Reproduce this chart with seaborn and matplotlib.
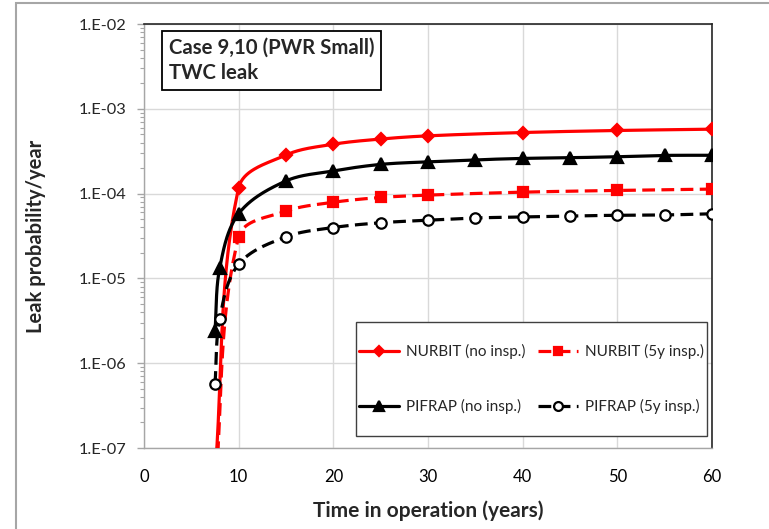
import numpy as np
import matplotlib
matplotlib.use("Agg")
import matplotlib.pyplot as plt
from matplotlib.lines import Line2D
from matplotlib.patches import Rectangle
from matplotlib.ticker import LogLocator, FixedLocator, NullFormatter, FuncFormatter
import seaborn as sns

# ---------------- data ----------------
nurbit_no_x = [7.5, 10, 15, 20, 25, 30, 40, 50, 60]
nurbit_no_y = [5e-8, 1.17e-4, 2.85e-4, 3.82e-4, 4.4e-4, 4.8e-4, 5.25e-4, 5.55e-4, 5.75e-4]

nurbit_5y_x = [7.5, 10, 15, 20, 25, 30, 40, 50, 60]
nurbit_5y_y = [3e-8, 3.1e-5, 6.2e-5, 7.9e-5, 9.0e-5, 9.6e-5, 1.04e-4, 1.09e-4, 1.13e-4]

pifrap_no_x = [7.5, 8, 10, 15, 20, 25, 30, 35, 40, 45, 50, 55, 60]
pifrap_no_y = [2.4e-6, 1.33e-5, 5.8e-5, 1.41e-4, 1.85e-4, 2.21e-4, 2.37e-4, 2.5e-4,
               2.6e-4, 2.65e-4, 2.72e-4, 2.82e-4, 2.83e-4]

pifrap_5y_x = [7.5, 8, 10, 15, 20, 25, 30, 35, 40, 45, 50, 55, 60]
pifrap_5y_y = [5.7e-7, 3.35e-6, 1.47e-5, 3.09e-5, 3.98e-5, 4.53e-5, 4.86e-5, 5.16e-5,
               5.3e-5, 5.45e-5, 5.55e-5, 5.6e-5, 5.78e-5]

labels = ["NURBIT (no insp.)", "NURBIT (5y insp.)", "PIFRAP (no insp.)", "PIFRAP (5y insp.)"]
x_ticks = [0, 10, 20, 30, 40, 50, 60]
y_ticks = [1e-7, 1e-6, 1e-5, 1e-4, 1e-3, 1e-2]
title_text = "Case 9,10 (PWR Small)\nTWC leak"
xlabel = "Time in operation (years)"
ylabel = "Leak probability/year"

# ---------------- style ----------------
sns.set_style("white")
plt.rcParams['font.family'] = ['Lato', 'DejaVu Sans']

W, H = 769, 529
fig = plt.figure(figsize=(W / 100, H / 100), dpi=100)
L, R, T, B = 144, 712, 24, 448
ax = fig.add_axes([L / W, 1 - B / H, (R - L) / W, (B - T) / H])

# chart-area outline (cropped at right/bottom)
fig.patches.append(Rectangle((16 / W, -0.1), 1.2, 1 - 3 / H + 0.1, transform=fig.transFigure,
                             fill=False, edgecolor="#a6a6a6", lw=1.5, zorder=0))

PX_X = (R - L) / 60.0
PX_DEC = (B - T) / 5.0


def smooth(x, y, n=40):
    """Smoothed line through the points (cubic Bezier, chord-scaled tangents) in display space."""
    X = np.asarray(x, float) * PX_X
    Y = np.log10(np.asarray(y, float)) * PX_DEC
    P = np.column_stack([X, Y])
    m = len(P)
    D = np.zeros_like(P)
    for i in range(m):
        a = P[max(i - 1, 0)]
        b = P[min(i + 1, m - 1)]
        d = b - a
        D[i] = d / np.linalg.norm(d)
    t = np.linspace(0, 1, n)[:, None]
    out = []
    for i in range(m - 1):
        p1, p2 = P[i], P[i + 1]
        l = np.linalg.norm(p2 - p1)
        c1 = p1 + D[i] * l / 3.0
        c2 = p2 - D[i + 1] * l / 3.0
        seg = (1 - t) ** 3 * p1 + 3 * (1 - t) ** 2 * t * c1 + 3 * (1 - t) * t ** 2 * c2 + t ** 3 * p2
        out.append(seg if i == 0 else seg[1:])
    out = np.vstack(out)
    return out[:, 0] / PX_X, 10 ** (out[:, 1] / PX_DEC)


red = "#ff0000"
blk = "#000000"
dash = (0, (4, 2))
series = [
    (nurbit_no_x, nurbit_no_y, red, "-", "D", 6.5, red, red),
    (nurbit_5y_x, nurbit_5y_y, red, dash, "s", 7.5, red, red),
    (pifrap_no_x, pifrap_no_y, blk, "-", "^", 8, blk, blk),
    (pifrap_5y_x, pifrap_5y_y, blk, dash, "o", 7.5, "white", blk),
]

handles = []
for k, (xs, ys, col, ls, mk, ms, mfc, mec) in enumerate(series):
    sx, sy = smooth(xs, ys)
    sns.lineplot(x=sx, y=sy, sort=False, estimator=None, color=col, lw=2.3,
                 linestyle=ls, ax=ax, zorder=3 + k)
    ax.plot(xs, ys, linestyle="none", marker=mk, markersize=ms, markerfacecolor=mfc,
            markeredgecolor=mec, markeredgewidth=1.6, zorder=3 + k)
    handles.append(Line2D([], [], color=col, lw=2.3, linestyle=ls, marker=mk,
                          markersize=ms * 0.85, markerfacecolor=mfc, markeredgecolor=mec,
                          markeredgewidth=1.6))

ax.set_yscale("log")
ax.set_xlim(0, 60)
ax.set_ylim(1e-7, 1e-2)
ax.xaxis.set_major_locator(FixedLocator(x_ticks))
ax.yaxis.set_major_locator(FixedLocator(y_ticks))
ax.yaxis.set_minor_locator(LogLocator(base=10, subs=np.arange(2, 10)))
ax.yaxis.set_minor_formatter(NullFormatter())
ax.yaxis.set_major_formatter(FuncFormatter(lambda v, p: "1.E%+03d" % int(round(np.log10(v))) if v > 0 else ""))
ax.grid(True, which="major", color="#d9d9d9", lw=1)
ax.set_axisbelow(True)

ax.tick_params(axis="x", length=0, pad=15, labelsize=12, labelcolor="#000000")
ax.tick_params(axis="y", which="major", direction="out", length=5, width=1, color="#a6a6a6",
               pad=7.5, labelsize=11.8, left=True)
ax.tick_params(axis="y", which="minor", direction="out", length=3, width=0.8, color="#a6a6a6", left=True)

for s in ["left", "bottom"]:
    ax.spines[s].set_color("#a6a6a6")
    ax.spines[s].set_linewidth(1)
for s in ["top", "right"]:
    ax.spines[s].set_color("#262626")
    ax.spines[s].set_linewidth(1.2)

ax.set_xlabel(xlabel, fontsize=15, fontweight="bold")
ax.set_ylabel(ylabel, fontsize=14.5, fontweight="bold")
ax.xaxis.set_label_coords(0.5, (B - 500) / (B - T))
ax.yaxis.set_label_coords((46 - L) / (R - L), 0.5)

ax.text(25 / (R - L), 1 - 14 / (B - T), title_text, transform=ax.transAxes, ha="left", va="top",
        fontsize=14.7, fontweight="bold", linespacing=1.3,
        bbox=dict(boxstyle="square,pad=0.33", facecolor="white", edgecolor="black", lw=1.3),
        zorder=10)

# legend frame
lx0, lx1, ly0, ly1 = 356, 707, 322, 436
frame = Rectangle(((lx0 - L) / (R - L), 1 - (ly1 - T) / (B - T)), (lx1 - lx0) / (R - L),
                  (ly1 - ly0) / (B - T), transform=ax.transAxes, facecolor="white",
                  edgecolor="#404040", lw=1.0, zorder=10)
ax.add_patch(frame)

order = [0, 2, 1, 3]  # row-wise filling for a 2-column legend
leg = ax.legend([handles[i] for i in order], [labels[i] for i in order], ncol=2, loc="center",
                bbox_to_anchor=(((lx0 + lx1) / 2 - L) / (R - L), 1 - ((ly0 + ly1) / 2 - T) / (B - T)),
                frameon=False, fontsize=11, numpoints=1, handlelength=2.6, handletextpad=0.45,
                columnspacing=0.85, labelspacing=2.6, borderpad=0.2, borderaxespad=0)
leg.set_zorder(11)

fig.savefig("out.png", dpi=100)
